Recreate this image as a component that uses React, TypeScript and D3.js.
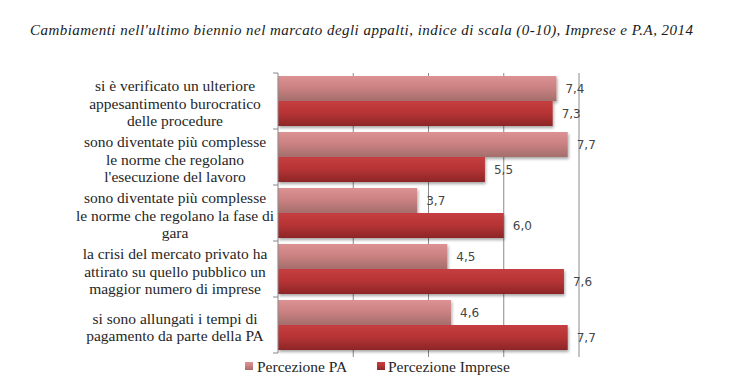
import React from "react";
import * as d3 from "d3";

const categories: string[][] = [
  ["si è verificato un ulteriore", "appesantimento burocratico", "delle procedure"],
  ["sono diventate più complesse", "le norme che regolano", "l'esecuzione del lavoro"],
  ["sono diventate più complesse", "le norme che regolano la fase di", "gara"],
  ["la crisi del mercato privato ha", "attirato su quello pubblico un", "maggior numero  di imprese"],
  ["si sono allungati i tempi di", "pagamento da parte della PA"],
];
const percezionePA = [7.4, 7.7, 3.7, 4.5, 4.6];
const percezioneImprese = [7.3, 5.5, 6.0, 7.6, 7.7];
const seriesNames = ["Percezione PA", "Percezione Imprese"];
const gridTicks = [0, 2, 4, 6, 8];
const title =
  "Cambiamenti  nell'ultimo biennio nel marcato degli appalti, indice di scala (0-10), Imprese e P.A, 2014";

const W = 749;
const H = 388;

export default function App() {
  const x = d3.scaleLinear().domain([0, 8]).range([278, 579]);
  const idx = categories.map((_, i) => String(i));
  const y = d3.scaleBand().domain(idx).range([73, 353]).paddingInner(0).paddingOuter(0);
  const bw = y.bandwidth();
  const inset = 3;
  const barH = (bw - 2 * inset) / 2;
  const fmt = (v: number) => v.toFixed(1).replace(".", ",");
  const serif = "Liberation Serif";
  const sans = "DejaVu Sans";

  return (
    <div style={{ position: "absolute", left: 0, top: 0 }}>
      <svg width={W} height={H} style={{ display: "block", background: "#fff" }}>
        <defs>
          <linearGradient id="gPA" x1="0" y1="0" x2="0" y2="1">
            <stop offset="0" stopColor="#dc9292" />
            <stop offset="0.45" stopColor="#cc8282" />
            <stop offset="1" stopColor="#a46e6c" />
          </linearGradient>
          <linearGradient id="gIM" x1="0" y1="0" x2="0" y2="1">
            <stop offset="0" stopColor="#c63e40" />
            <stop offset="0.5" stopColor="#b53334" />
            <stop offset="1" stopColor="#8c2627" />
          </linearGradient>
          <filter id="shadow" x="-5%" y="-20%" width="110%" height="160%">
            <feGaussianBlur in="SourceAlpha" stdDeviation="1.5" />
            <feOffset dx="1" dy="2" result="b" />
            <feComponentTransfer>
              <feFuncA type="linear" slope="0.35" />
            </feComponentTransfer>
            <feMerge>
              <feMergeNode />
              <feMergeNode in="SourceGraphic" />
            </feMerge>
          </filter>
        </defs>

        <text
          x={30}
          y={35}
          fontFamily={serif}
          fontStyle="italic"
          fontSize={15}
          fill="#1a1a1a"
          textLength={663}
          lengthAdjust="spacing"
        >
          {title}
        </text>

        {/* gridlines */}
        {gridTicks.slice(1).map((t) => (
          <line key={t} x1={x(t)} x2={x(t)} y1={73} y2={357} stroke="#8a8a8a" strokeWidth={1} />
        ))}

        {/* bars */}
        {idx.map((k, i) => {
          const y0 = (y(k) as number) + inset;
          return (
            <g key={k} filter="url(#shadow)">
              <rect x={x(0)} y={y0} width={x(percezionePA[i]) - x(0)} height={barH} fill="url(#gPA)" />
              <rect
                x={x(0)}
                y={y0 + barH}
                width={x(percezioneImprese[i]) - x(0)}
                height={barH}
                fill="url(#gIM)"
              />
            </g>
          );
        })}

        {/* value labels */}
        {idx.map((k, i) => {
          const y0 = (y(k) as number) + inset;
          return (
            <g key={"l" + k} fontFamily={sans} fontSize={12} fill="#454545">
              <text x={x(percezionePA[i]) + 9} y={y0 + barH / 2} dominantBaseline="central">
                {fmt(percezionePA[i])}
              </text>
              <text x={x(percezioneImprese[i]) + 9} y={y0 + barH * 1.5} dominantBaseline="central">
                {fmt(percezioneImprese[i])}
              </text>
            </g>
          );
        })}

        {/* left axis */}
        <line x1={x(0)} x2={x(0)} y1={73} y2={353} stroke="#8a8a8a" />
        {[...idx.map((k) => y(k) as number), 353].map((t, i) => (
          <line key={"t" + i} x1={x(0) - 5} x2={x(0)} y1={t} y2={t} stroke="#8a8a8a" />
        ))}

        {/* category labels */}
        {idx.map((k, i) => {
          const lines = categories[i];
          const cy = (y(k) as number) + bw / 2 + 2;
          const lh = 17.3;
          const start = cy - ((lines.length - 1) * lh) / 2;
          return (
            <text
              key={"c" + k}
              fontFamily={serif}
              fontSize={15.5}
              fill="#262626"
              textAnchor="middle"
            >
              {lines.map((ln, j) => (
                <tspan key={j} x={175} y={start + j * lh} dominantBaseline="central">
                  {ln}
                </tspan>
              ))}
            </text>
          );
        })}

        {/* legend */}
        <g fontFamily={serif} fontSize={15.5} fill="#262626">
          <rect x={245} y={362} width={8} height={8} fill="url(#gPA)" />
          <text x={257} y={366} dominantBaseline="central">
            {seriesNames[0]}
          </text>
          <rect x={377} y={362} width={8} height={8} fill="url(#gIM)" />
          <text x={388} y={366} dominantBaseline="central">
            {seriesNames[1]}
          </text>
        </g>
      </svg>
    </div>
  );
}
